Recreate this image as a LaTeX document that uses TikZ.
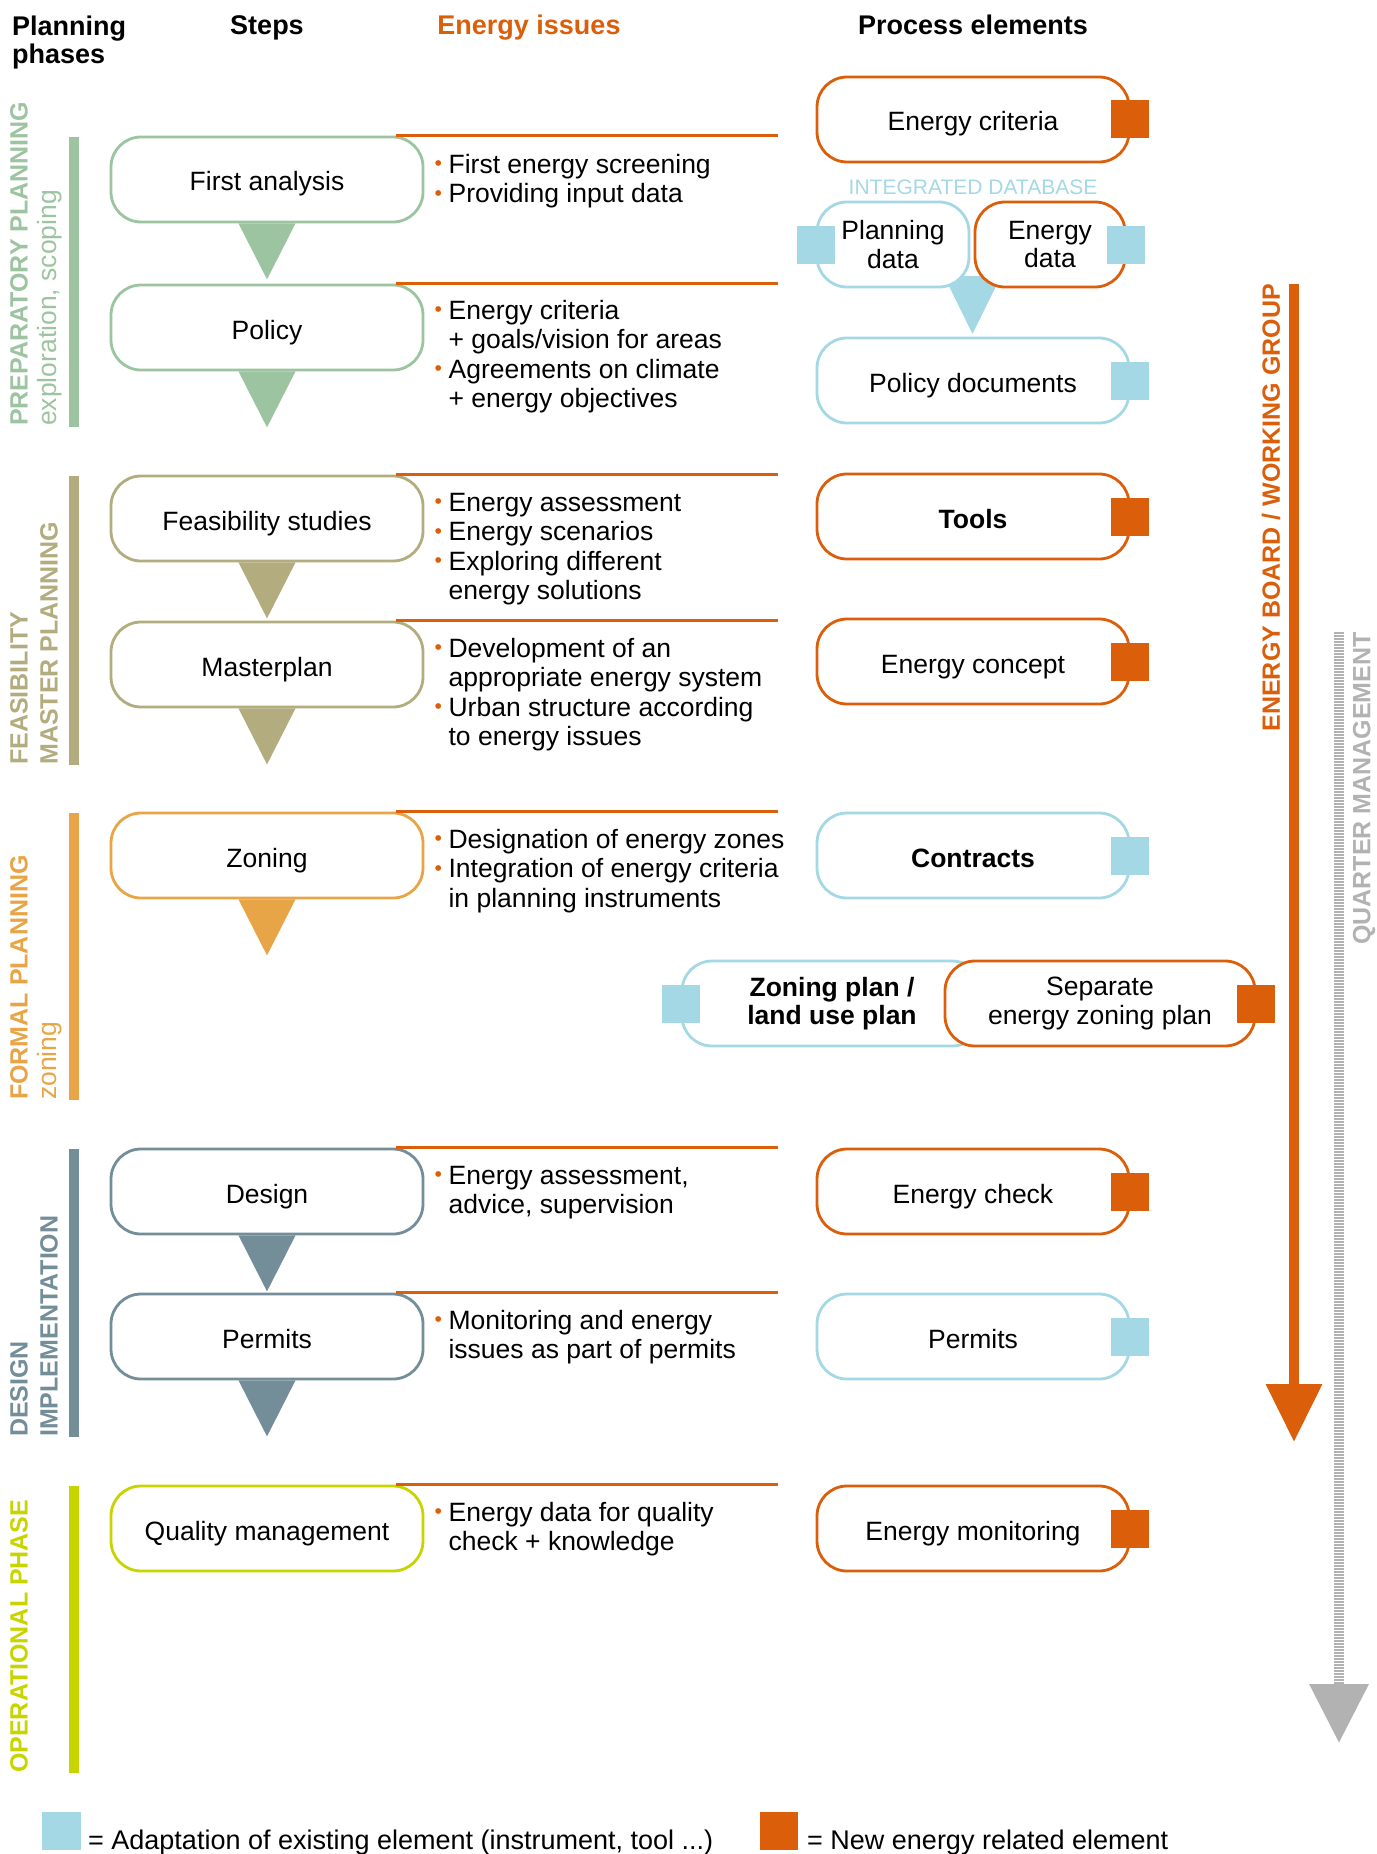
\documentclass[tikz,border=0pt]{standalone}
\usepackage{graphicx}
\usepackage{fontspec}
\setmainfont{Liberation Sans}
\usetikzlibrary{arrows.meta}
\definecolor{eorange}{RGB}{219,94,11}
\definecolor{lblue}{RGB}{164,216,229}
\definecolor{prepgreen}{RGB}{157,196,160}
\definecolor{feaskhaki}{RGB}{178,172,126}
\definecolor{formalor}{RGB}{232,165,72}
\definecolor{desslate}{RGB}{116,142,153}
\definecolor{operlime}{RGB}{200,212,0}
\definecolor{qmgray}{RGB}{178,178,178}
\newcommand{\bodyfont}{\fontsize{26.5}{29.5}\selectfont}
\newcommand{\twolines}{\fontsize{26.5}{28.5}\selectfont}
\newcommand{\bul}{\makebox[0pt][r]{\textcolor{eorange}{\raisebox{2.5pt}{\scalebox{.8}{•}}}\hspace{6.5pt}}}

\begin{document}
\begin{tikzpicture}[x=1pt,y=-1pt, font=\bodyfont, line join=round,
    roundbox/.style={draw=#1, fill=white, line width=2.8pt, rounded corners=30pt, minimum width=312pt, minimum height=85pt, align=center, inner sep=0pt},
    stepbox/.style={roundbox=#1, text height=23pt, text depth=0pt},
    elembox/.style={stepbox=#1},
    duobox/.style={roundbox=#1, font=\twolines},
    issue/.style={anchor=north west, align=left, inner sep=0pt},
    sepline/.style={eorange, line width=3pt},
    phasebar/.style={line width=10pt},
    phase/.style={rotate=90, anchor=west, inner sep=0pt, font=\fontsize{25}{25}\selectfont\bfseries, text=#1},
    subphase/.style={rotate=90, anchor=west, inner sep=0pt, font=\bodyfont, text=#1},
    head/.style={anchor=base, inner sep=0pt, font=\fontsize{27}{28}\selectfont\bfseries},
    newsq/.style={fill=eorange, minimum size=38pt, inner sep=0pt},
    adsq/.style={fill=lblue, minimum size=38pt, inner sep=0pt}]
    \useasboundingbox (0,0) rectangle (1376,1854);
    \def\sx{267} \def\ex{973}

    \node[head, anchor=north west, align=left] (hplan) at (12,15.5) {Planning\\phases};
    \node[head] (hsteps) at (\sx,35) {Steps};
    \node[head, text=eorange] (hissues) at (529,35) {Energy issues};
    \node[head] (helem) at (\ex,35) {Process elements};

    % phases
    \foreach \a/\b/\c in {137/427/prepgreen, 476/765/feaskhaki, 813/1100/formalor, 1149/1437/desslate, 1486/1773/operlime}
        \draw[phasebar, \c] (74,\a) -- (74,\b);
    \node[phase=prepgreen] (pp) at (19,426) {PREPARATORY PLANNING};
    \node[subphase=prepgreen] (ppsub) at (50,426) {exploration, scoping};
    \node[phase=feaskhaki] (fp) at (19,765) {FEASIBILITY};
    \node[phase=feaskhaki] (fpsub) at (49,765) {MASTER PLANNING};
    \node[phase=formalor] (fo) at (19,1100) {FORMAL PLANNING};
    \node[subphase=formalor] (fosub) at (50,1100) {zoning};
    \node[phase=desslate] (dp) at (19,1437) {DESIGN};
    \node[phase=desslate] (dpsub) at (49,1437) {IMPLEMENTATION};
    \node[phase=operlime] (op) at (19,1773) {OPERATIONAL PHASE};

    % steps
    \node[stepbox=prepgreen] (fa) at (\sx,179.5) {First analysis};
    \node[stepbox=prepgreen] (pol) at (\sx,327.5) {Policy};
    \node[stepbox=feaskhaki] (feas) at (\sx,518.5) {Feasibility studies};
    \node[stepbox=feaskhaki] (mp) at (\sx,664.5) {Masterplan};
    \node[stepbox=formalor] (zon) at (\sx,855.5) {Zoning};
    \node[stepbox=desslate] (des) at (\sx,1191.5) {Design};
    \node[stepbox=desslate] (perm) at (\sx,1336.5) {Permits};
    \node[stepbox=operlime] (qm) at (\sx,1528.5) {Quality management};
    \foreach \n/\c in {fa/prepgreen, pol/prepgreen, feas/feaskhaki, mp/feaskhaki, zon/formalor, des/desslate, perm/desslate}
        \fill[\c] ([xshift=-28.5pt]\n.south) -- ([xshift=28.5pt]\n.south) -- ([yshift=-56pt]\n.south) -- cycle;
    \foreach \n in {fa,pol,feas,mp,zon,des,perm,qm}
        \draw[sepline] ([xshift=-28pt]\n.north east) -- ([xshift=354pt]\n.north east);

    % energy issues
    \node[issue] (ifa) at ([xshift=24pt,yshift=-17pt]fa.north east) {\strut\bul First energy screening\\\bul Providing input data};
    \node[issue] (ipol) at ([xshift=24pt,yshift=-15pt]pol.north east) {\strut\bul Energy criteria\\+ goals/vision for areas\\\bul Agreements on climate\\+ energy objectives};
    \node[issue] (ifeas) at ([xshift=24pt,yshift=-16pt]feas.north east) {\strut\bul Energy assessment\\\bul Energy scenarios\\\bul Exploring different\\energy solutions};
    \node[issue] (imp) at ([xshift=24pt,yshift=-16pt]mp.north east) {\strut\bul Development of an\\appropriate energy system\\\bul Urban structure according\\to energy issues};
    \node[issue] (izon) at ([xshift=24pt,yshift=-16pt]zon.north east) {\strut\bul Designation of energy zones\\\bul Integration of energy criteria\\in planning instruments};
    \node[issue] (ides) at ([xshift=24pt,yshift=-16pt]des.north east) {\strut\bul Energy assessment,\\advice, supervision};
    \node[issue] (iperm) at ([xshift=24pt,yshift=-16pt]perm.north east) {\strut\bul Monitoring and energy\\issues as part of permits};
    \node[issue] (iqm) at ([xshift=24pt,yshift=-16pt]qm.north east) {\strut\bul Energy data for quality\\check + knowledge};

    % process elements
    \node[elembox=eorange] (ecrit) at (\ex,119.5) {Energy criteria};
    \node[font=\fontsize{21}{21}\selectfont, text=lblue, inner sep=0pt] (intdb) at (\ex,187) {INTEGRATED DATABASE};
    \fill[lblue] (944,276) -- (1001,276) -- (972.5,334) -- cycle;
    \node[duobox=lblue, minimum width=152pt] (pdata) at (893,244.5) {Planning\\data};
    \node[duobox=eorange, minimum width=150pt] (edata) at (1050,244.5) {Energy\\data};
    \node[elembox=lblue] (pdoc) at (\ex,380.5) {Policy documents};
    \node[elembox=eorange, font=\bodyfont\bfseries] (tools) at (\ex,516.5) {Tools};
    \node[elembox=eorange] (econ) at (\ex,661.5) {Energy concept};
    \node[elembox=lblue, font=\bodyfont\bfseries] (contr) at (\ex,855.5) {Contracts};
    \node[duobox=lblue, minimum width=300pt, font=\twolines\bfseries] (zplan) at (832,1003.5) {Zoning plan /\\land use plan};
    \node[duobox=eorange, minimum width=310pt] (sepzp) at (1100,1003.5) {Separate\\energy zoning plan};
    \node[elembox=eorange] (echeck) at (\ex,1191.5) {Energy check};
    \node[elembox=lblue] (eperm) at (\ex,1336.5) {Permits};
    \node[elembox=eorange] (emon) at (\ex,1528.5) {Energy monitoring};
    \foreach \n in {ecrit,tools,econ,sepzp,echeck,emon}
        \node[newsq] (sq\n) at (\n.east) {};
    \foreach \n in {edata,pdoc,contr,eperm}
        \node[adsq] (sq\n) at (\n.east) {};
    \node[adsq] (sqpdata) at (pdata.west) {};
    \node[adsq] (sqzplan) at (zplan.west) {};

    % boards
    \coordinate (ebtop) at (1294,284);
    \coordinate (ebend) at (1294,1442);
    \draw[eorange, line width=10pt, -{Triangle[width=54pt,length=58pt]}] (ebtop) -- (ebend);
    \node[phase=eorange, anchor=east] (eblabel) at (1271,284) {ENERGY BOARD / WORKING GROUP};
    \coordinate (qmtop) at (1339,632);
    \coordinate (qmend) at (1339,1743);
    \draw[qmgray, line width=10pt, dash pattern=on 1.5pt off 1.5pt, -{Triangle[width=57pt,length=59pt]}] (qmtop) -- (qmend);
    \node[phase=qmgray, anchor=east] (qmlabel) at (1364,632) {QUARTER MANAGEMENT};

    % legend
    \node[adsq, minimum width=39pt] (lgad) at (61.5,1831) {};
    \node[anchor=base west, inner sep=0pt, font=\fontsize{27}{27}\selectfont] (lgadtxt) at (88,1849) {= Adaptation of existing element (instrument, tool ...)};
    \node[newsq] (lgnew) at (779,1831) {};
    \node[anchor=base west, inner sep=0pt, font=\fontsize{27}{27}\selectfont] (lgnewtxt) at (807,1849) {= New energy related element};
\end{tikzpicture}
\end{document}
